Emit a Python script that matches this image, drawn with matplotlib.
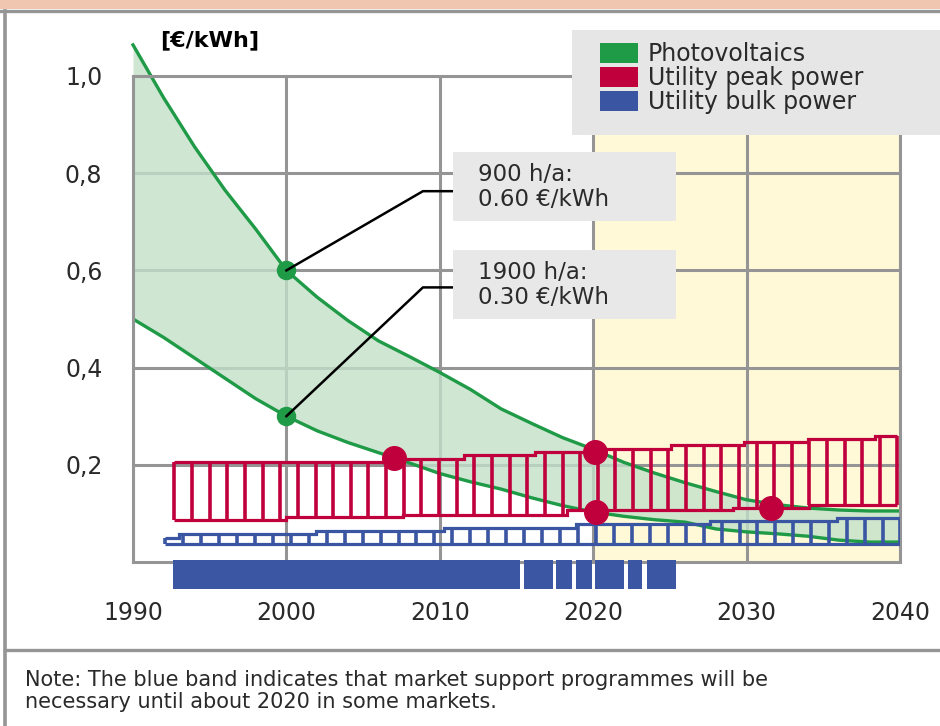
import numpy as np
import matplotlib
matplotlib.use("Agg")
import matplotlib.pyplot as plt
from matplotlib.lines import Line2D
from matplotlib.patches import Patch, Rectangle

# photovoltaic generating cost, €/kWh (upper edge 900 h/a, lower edge 1900 h/a)
pv_years = [1990, 1992, 1994, 1996, 1998, 2000, 2002, 2004, 2006, 2008, 2010, 2012, 2014,
            2016, 2018, 2020, 2022, 2024, 2026, 2028, 2030, 2032, 2034, 2036, 2038, 2040]
pv_high = [1.064, 0.955, 0.855, 0.765, 0.685, 0.600, 0.545, 0.497, 0.455, 0.423, 0.390,
           0.355, 0.315, 0.285, 0.256, 0.232, 0.205, 0.183, 0.163, 0.145, 0.128, 0.118,
           0.111, 0.107, 0.105, 0.105]
pv_low = [0.500, 0.462, 0.420, 0.378, 0.336, 0.300, 0.270, 0.246, 0.225, 0.204, 0.182,
          0.165, 0.150, 0.132, 0.116, 0.103, 0.094, 0.087, 0.082, 0.068, 0.062, 0.058,
          0.053, 0.045, 0.041, 0.041]

# utility peak power price range (step edges / levels)
peak_low_edges = [1992.7, 2000.0, 2007.6, 2018.3, 2029.1, 2034.1, 2039.8]
peak_low = [0.087, 0.092, 0.097, 0.107, 0.111, 0.118]
peak_high_edges = [1992.7, 2007.0, 2011.6, 2016.2, 2020.1, 2025.1, 2029.8, 2034.0, 2038.4, 2039.8]
peak_high = [0.205, 0.212, 0.220, 0.227, 0.233, 0.240, 0.247, 0.254, 0.260]

# utility bulk power price range
bulk_low_edges = [1992.1, 2040.0]
bulk_low = [0.038]
bulk_high_edges = [1992.1, 1993.0, 2001.9, 2010.3, 2018.9, 2027.6, 2035.9, 2040.0]
bulk_high = [0.050, 0.057, 0.064, 0.070, 0.078, 0.084, 0.091]

# points where PV meets grid prices
pv_mark_x = [2000, 2000]
pv_mark_y = [0.60, 0.30]
cross_x = [2007.0, 2020.1, 2020.2, 2031.6]
cross_y = [0.214, 0.227, 0.103, 0.111]

# market support programme periods
support_start = [1992.6, 2015.5, 2017.6, 2018.9, 2020.1, 2022.3, 2023.5]
support_end = [2015.2, 2017.4, 2018.6, 2019.9, 2022.0, 2023.2, 2025.4]

x_ticks = [1990, 2000, 2010, 2020, 2030, 2040]
y_ticks = [0.2, 0.4, 0.6, 0.8, 1.0]
y_tick_labels = ["0,2", "0,4", "0,6", "0,8", "1,0"]

GREEN = "#1f9a46"
RED = "#c0003c"
BLUE = "#3a56a3"
GRAY = "#959595"
TEXT = "#2a2a2a"

plt.rcParams["font.family"] = ["DejaVu Sans"]


def step_at(x, edges, levels):
    idx = np.searchsorted(edges, x, side="right") - 1
    idx = np.clip(idx, 0, len(levels) - 1)
    return np.asarray(levels)[idx]


def ladder(ax, low_edges, low, high_edges, high, color, pitch, zorder):
    """Price range drawn as two step lines joined by vertical rungs."""
    ax.stairs(low, low_edges, baseline=None, color=color, lw=2.3, zorder=zorder)
    ax.stairs(high, high_edges, baseline=None, color=color, lw=2.3, zorder=zorder)
    start, end = high_edges[0], high_edges[-1]
    xs = np.append(np.arange(start, end - 0.3, pitch), end)
    ax.vlines(xs, step_at(xs, low_edges, low), step_at(xs, high_edges, high),
              color=color, lw=2.6, zorder=zorder)


fig = plt.figure(figsize=(9.4, 7.26), dpi=100)
ax = fig.add_axes([133 / 940, 1 - 562 / 726, 767 / 940, 486 / 726])

# future period shading
ax.axvspan(2020, 2040, color="#fff9d8", lw=0, zorder=0.2)

ax.fill_between(pv_years, pv_low, pv_high, color="#c3e0c9", alpha=0.8, lw=0,
                zorder=1.5, clip_on=False)
ax.plot(pv_years, pv_high, color=GREEN, lw=2.4, zorder=2, clip_on=False)
ax.plot(pv_years, pv_low, color=GREEN, lw=2.4, zorder=2)

ladder(ax, peak_low_edges, peak_low, peak_high_edges, peak_high, RED, 1.15, 3)
ladder(ax, bulk_low_edges, bulk_low, bulk_high_edges, bulk_high, BLUE, 1.17, 3)

ax.plot(pv_mark_x, pv_mark_y, "o", color=GREEN, ms=13, zorder=4)
ax.plot(cross_x, cross_y, "o", color=RED, ms=17, zorder=4)

# support programme band under the time axis
ax.broken_barh([(s, e - s) for s, e in zip(support_start, support_end)], (-0.056, 0.06),
               facecolor="#3b57a4", lw=0, zorder=3, clip_on=False)

# call-outs for the two irradiation cases
callouts = [("900 h/a:\n0.60 €/kWh", pv_mark_x[0], pv_mark_y[0], 0.763, 0.701, 0.843),
            ("1900 h/a:\n0.30 €/kWh", pv_mark_x[1], pv_mark_y[1], 0.565, 0.499, 0.641)]
box_x0, box_x1, elbow_x = 2010.86, 2025.4, 2008.9
for label, px, py, ly, b0, b1 in callouts:
    ax.add_patch(Rectangle((box_x0, b0), box_x1 - box_x0, b1 - b0, facecolor="#e8e8e8",
                           edgecolor="none", zorder=5))
    ax.plot([px, elbow_x, box_x0], [py, ly, ly], color="black", lw=1.8, zorder=4.5)
    ax.text(2012.5, (b0 + b1) / 2, label, fontsize=16.5, color=TEXT, va="center",
            ha="left", linespacing=1.12, zorder=6)

ax.set_xlim(1990, 2040)
ax.set_ylim(0, 1.0)
ax.set_xticks(x_ticks)
ax.set_xticklabels([str(t) for t in x_ticks])
ax.set_yticks(y_ticks)
ax.set_yticklabels(y_tick_labels)
ax.tick_params(length=0, labelsize=17, labelcolor=TEXT)
ax.tick_params(axis="x", pad=28)
ax.tick_params(axis="y", pad=22)
ax.grid(True, color=GRAY, lw=2.2)
ax.set_axisbelow(True)
for spine in ax.spines.values():
    spine.set_color(GRAY)
    spine.set_linewidth(2.2)

fig.text(160 / 940, 1 - 40 / 726, "[€/kWh]", fontsize=16, fontweight="bold",
         color="black", va="center", ha="left")

# legend panel
fig.patches.append(Rectangle((572 / 940, 1 - 135 / 726), 368 / 940, 105 / 726,
                             transform=fig.transFigure, facecolor="#e6e6e6",
                             edgecolor="none", zorder=4))
handles = [Patch(facecolor=GREEN, edgecolor="none"),
           Patch(facecolor=RED, edgecolor="none"),
           Patch(facecolor=BLUE, edgecolor="none")]
fig.legend(handles, ["Photovoltaics", "Utility peak power", "Utility bulk power"],
           loc="upper left", bbox_to_anchor=(600 / 940, 1 - 42 / 726),
           frameon=False, fontsize=17, labelcolor=TEXT, borderpad=0, borderaxespad=0,
           handlelength=1.61, handleheight=0.93, handletextpad=0.42, labelspacing=0.0)

# page frame: header strip, left rule and note separator
fig.patches.append(Rectangle((0, 1 - 9 / 726), 1, 9 / 726, transform=fig.transFigure,
                             facecolor="#f0c6b0", edgecolor="none"))
fig.add_artist(Line2D([0, 1], [1 - 11 / 726] * 2, color=GRAY, lw=2.4))
fig.add_artist(Line2D([5 / 940] * 2, [0, 1 - 11 / 726], color=GRAY, lw=2.6))
fig.add_artist(Line2D([5 / 940, 1], [1 - 650 / 726] * 2, color=GRAY, lw=2.4))

fig.text(25 / 940, 1 - 691 / 726,
         "Note: The blue band indicates that market support programmes will be\n"
         "necessary until about 2020 in some markets.",
         fontsize=15, color=TEXT, va="center", ha="left", linespacing=1.1)

fig.savefig("out.png", dpi=100)
